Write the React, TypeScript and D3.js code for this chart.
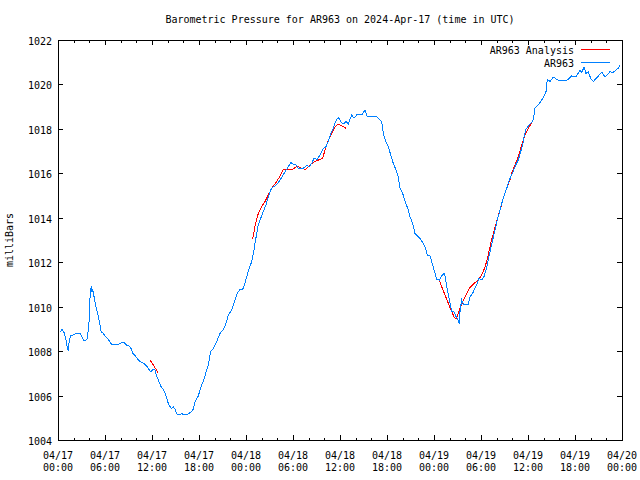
import React from "react";
import * as d3 from "d3";

const TITLE = "Barometric Pressure for AR963 on 2024-Apr-17 (time in UTC)";
const Y_LABEL = "milliBars";
const START_ISO = "2024-04-17T00:00:00Z";
const END_ISO = "2024-04-20T00:00:00Z";
const Y_DOMAIN = [1004, 1022];
const Y_TICKS = [1004, 1006, 1008, 1010, 1012, 1014, 1016, 1018, 1020, 1022];

// AR963 observed: hours since 2024-04-17 00:00 UTC, and pressure (mb)
const obsHours = [
  0.26, 0.55, 0.77, 1.02, 1.19, 1.31, 1.44, 1.62, 1.95, 2.3, 2.81, 3.03, 3.23, 3.54, 3.74, 3.83, 4.0, 4.09, 4.25, 4.34,
  4.43, 4.6, 4.76, 4.94, 5.2, 5.36, 5.53, 5.78, 6.0, 6.29, 6.55, 6.8, 7.28, 7.83, 8.13, 8.43, 8.77, 9.1, 9.32, 9.54,
  9.83, 10.12, 10.47, 10.98, 11.32, 11.66, 11.87, 12.17, 12.38, 12.6, 12.8, 13.11, 13.44, 13.66, 13.88, 14.08, 14.3,
  14.51, 14.72, 14.94, 15.23, 15.57, 15.79, 16.0, 16.43, 16.76, 17.07, 17.27, 17.49, 17.71, 17.91, 18.13, 18.34,
  18.55, 18.77, 18.98, 19.19, 19.49, 19.83, 20.26, 20.68, 21.1, 21.54, 21.74, 22.17, 22.6, 22.89, 23.23, 23.58,
  23.87, 24.09, 24.42, 24.73, 25.02, 25.15, 25.37, 25.57, 25.88, 26.21, 26.55, 26.85, 27.15, 27.41, 27.7, 28.12,
  28.56, 28.98, 29.4, 29.71, 30.04, 30.47, 30.68, 31.31, 31.75, 32.08, 32.39, 32.68, 33.1, 33.45, 33.87, 34.21,
  34.51, 34.81, 35.14, 35.49, 35.78, 36.09, 36.42, 36.77, 37.06, 37.49, 37.79, 38.13, 38.77, 39.19, 39.48, 40.68,
  41.02, 41.32, 41.53, 41.83, 42.17, 42.47, 42.8, 43.15, 43.44, 43.66, 44.0, 44.3, 44.72, 44.94, 45.28, 45.57,
  46.0, 46.3, 46.56, 46.85, 47.14, 47.49, 47.71, 47.91, 48.13, 48.34, 48.68, 48.98, 49.28, 49.44, 49.62, 49.83,
  50.04, 50.26, 50.55, 50.81, 50.97, 51.23, 51.32, 51.53, 51.74, 52.38, 52.6, 52.94, 53.23, 53.53, 53.74, 54.09,
  54.38, 54.64, 54.93, 55.15, 55.49, 55.79, 56.08, 56.43, 56.77, 57.06, 57.36, 57.61, 57.92, 58.34, 58.76, 59.07,
  59.32, 59.49, 59.74, 60.17, 60.6, 60.77, 60.89, 61.32, 61.75, 62.04, 62.3, 62.46, 62.81, 63.23, 63.66, 64.17,
  64.72, 65.14, 65.58, 66.13, 66.64, 66.85, 67.15, 67.4, 67.7, 68.0, 68.34, 68.68, 68.98, 69.41, 69.83, 70.12,
  70.47, 70.81, 71.23, 71.53, 71.74,
];
const obsValues = [
  1008.87, 1008.98, 1008.83, 1008.5, 1008.17, 1008.0, 1008.5, 1008.7, 1008.73, 1008.8, 1008.8, 1008.65, 1008.5,
  1008.5, 1008.57, 1008.87, 1009.47, 1010.45, 1010.93, 1010.67, 1010.78, 1010.45, 1010.15, 1009.85, 1009.47,
  1009.18, 1008.85, 1008.8, 1008.68, 1008.57, 1008.47, 1008.32, 1008.32, 1008.32, 1008.38, 1008.38, 1008.27,
  1008.23, 1008.12, 1007.9, 1007.8, 1007.67, 1007.52, 1007.45, 1007.33, 1007.15, 1007.07, 1007.18, 1007.15,
  1006.88, 1006.7, 1006.43, 1006.28, 1006.13, 1005.87, 1005.65, 1005.5, 1005.42, 1005.5, 1005.38, 1005.13,
  1005.13, 1005.2, 1005.13, 1005.13, 1005.2, 1005.3, 1005.38, 1005.73, 1005.87, 1005.98, 1006.25, 1006.48,
  1006.62, 1006.88, 1007.15, 1007.38, 1007.98, 1008.12, 1008.43, 1008.8, 1008.95, 1009.33, 1009.63, 1009.85,
  1010.3, 1010.6, 1010.78, 1010.78, 1011.05, 1011.35, 1011.73, 1012.03, 1012.55, 1012.85, 1013.3, 1013.68,
  1013.98, 1014.28, 1014.58, 1014.95, 1015.25, 1015.37, 1015.43, 1015.58, 1015.82, 1016.07, 1016.3, 1016.48,
  1016.42, 1016.37, 1016.22, 1016.22, 1016.37, 1016.3, 1016.45, 1016.68, 1016.63, 1016.83, 1017.12, 1017.2,
  1017.43, 1017.8, 1018.03, 1018.37, 1018.52, 1018.33, 1018.22, 1018.33, 1018.22, 1018.63, 1018.48, 1018.63,
  1018.63, 1018.85, 1018.55, 1018.55, 1018.43, 1018.33, 1017.8, 1017.43, 1017.2, 1016.83, 1016.45, 1016.15,
  1015.85, 1015.33, 1015.1, 1014.75, 1014.35, 1014.05, 1013.75, 1013.3, 1013.15, 1013.03, 1012.88, 1012.7,
  1012.33, 1012.28, 1012.03, 1011.77, 1011.5, 1011.23, 1011.2, 1011.38, 1011.5, 1011.35, 1010.9, 1010.53,
  1010.15, 1009.78, 1009.78, 1009.55, 1009.48, 1009.22, 1009.78, 1010.3, 1010.12, 1010.12, 1010.45, 1010.6,
  1010.83, 1011.05, 1011.27, 1011.2, 1011.35, 1011.65, 1012.1, 1012.48, 1013.0, 1013.45, 1013.9, 1014.35,
  1014.8, 1015.1, 1015.4, 1015.7, 1015.93, 1016.3, 1016.6, 1016.98, 1017.28, 1017.65, 1017.98, 1018.18,
  1018.35, 1018.63, 1018.93, 1019.08, 1019.3, 1019.48, 1019.68, 1020.23, 1020.13, 1020.33, 1020.23, 1020.16,
  1020.16, 1020.23, 1020.38, 1020.33, 1020.65, 1020.53, 1020.77, 1020.5, 1020.58, 1020.27, 1020.13, 1020.27,
  1020.38, 1020.55, 1020.35, 1020.43, 1020.58, 1020.53, 1020.65, 1020.73, 1020.88,
];

// AR963 Analysis segments
const anaSeg1Hours = [11.74, 12.17, 12.51, 12.8];
const anaSeg1Values = [1007.6, 1007.38, 1007.18, 1007.0];
const anaSeg2Hours = [
  24.85, 25.15, 25.57, 26.0, 26.42, 26.85, 27.36, 27.92, 28.34, 28.76, 29.4, 29.96, 30.55, 31.11, 31.66, 32.17,
  32.81, 33.79, 34.21, 34.51, 34.94, 35.36, 35.78, 36.22, 36.77,
];
const anaSeg2Values = [
  1013.03, 1013.63, 1014.2, 1014.5, 1014.73, 1015.03, 1015.37, 1015.63, 1015.88, 1016.18, 1016.18, 1016.18,
  1016.33, 1016.22, 1016.18, 1016.38, 1016.53, 1016.68, 1017.2, 1017.5, 1017.8, 1018.07, 1018.22, 1018.13, 1018.03,
];
const anaSeg3Hours = [
  48.68, 48.98, 49.4, 49.83, 50.26, 50.55, 50.81, 51.1, 51.41, 51.74, 52.17, 52.6, 53.11, 53.66, 54.09, 54.51,
  54.93, 55.24, 55.58, 56.0, 56.43, 56.85, 57.28, 57.7, 57.92, 58.34, 58.76, 59.19, 59.62, 60.04, 60.6,
];
const anaSeg3Values = [
  1011.2, 1010.9, 1010.53, 1010.15, 1009.78, 1009.55, 1009.43, 1009.7, 1010.0, 1010.27, 1010.6, 1010.87, 1011.05,
  1011.2, 1011.43, 1011.77, 1012.33, 1012.85, 1013.3, 1013.83, 1014.35, 1014.88, 1015.33, 1015.7, 1016.0, 1016.38,
  1016.75, 1017.28, 1017.73, 1018.03, 1018.35,
];

const SERIES_NAMES = ["AR963 Analysis", "AR963"];
const SERIES_COLORS = ["#ff0000", "#0080ff"];

const W = 640;
const H = 480;
const M = { left: 58, right: 622, top: 40, bottom: 440 };
const FONT = "'DejaVu Sans Mono', 'Liberation Mono', monospace";

type Pt = { t: Date; v: number };

export default function App() {
  const start = new Date(START_ISO);
  const end = new Date(END_ISO);
  const x = d3.scaleUtc().domain([start, end]).range([M.left, M.right]);
  const y = d3.scaleLinear().domain(Y_DOMAIN).range([M.bottom, M.top]);

  const toPts = (hs: number[], vs: number[]): Pt[] =>
    hs.map((h, i) => ({ t: new Date(start.getTime() + h * 3600e3), v: vs[i] }));

  const line = d3
    .line<Pt>()
    .x((d) => x(d.t))
    .y((d) => y(d.v));

  const obs = toPts(obsHours, obsValues);
  const anaSegs = [
    toPts(anaSeg1Hours, anaSeg1Values),
    toPts(anaSeg2Hours, anaSeg2Values),
    toPts(anaSeg3Hours, anaSeg3Values),
  ];

  const majorX = x.ticks(d3.utcHour.every(6)!);
  const minorX = x.ticks(d3.utcHour.every(2)!).filter((d) => d.getUTCHours() % 6 !== 0);
  const fmtDate = d3.utcFormat("%m/%d");
  const fmtTime = d3.utcFormat("%H:%M");

  const majLen = 5;
  const minLen = 2.5;

  return (
    <svg
      width={W}
      height={H}
      viewBox={`0 0 ${W} ${H}`}
      style={{ position: "absolute", left: 0, top: 0, background: "#fff" }}
      fontFamily={FONT}
      fontSize={10}
    >
      <rect x={0} y={0} width={W} height={H} fill="#fff" />
      {/* ticks */}
      <g stroke="#000" strokeWidth={1} shapeRendering="crispEdges">
        {majorX.map((d, i) => {
          const px = Math.round(x(d)) + 0.5;
          return (
            <g key={"mx" + i}>
              <line x1={px} x2={px} y1={M.bottom} y2={M.bottom - majLen} />
              <line x1={px} x2={px} y1={M.top} y2={M.top + majLen} />
            </g>
          );
        })}
        {minorX.map((d, i) => {
          const px = Math.round(x(d)) + 0.5;
          return (
            <g key={"nx" + i}>
              <line x1={px} x2={px} y1={M.bottom} y2={M.bottom - minLen} />
              <line x1={px} x2={px} y1={M.top} y2={M.top + minLen} />
            </g>
          );
        })}
        {Y_TICKS.map((v, i) => {
          const py = Math.round(y(v)) + 0.5;
          return (
            <g key={"y" + i}>
              <line x1={M.left} x2={M.left + majLen} y1={py} y2={py} />
              <line x1={M.right} x2={M.right - majLen} y1={py} y2={py} />
            </g>
          );
        })}
      </g>
      {/* tick labels */}
      <g fill="#000">
        {Y_TICKS.map((v, i) => (
          <text key={"yl" + i} x={M.left - 6} y={y(v) + 5} textAnchor="end">
            {v}
          </text>
        ))}
        {majorX.map((d, i) => (
          <g key={"xl" + i}>
            <text x={x(d)} y={458.5} textAnchor="middle">
              {fmtDate(d)}
            </text>
            <text x={x(d)} y={470.5} textAnchor="middle">
              {fmtTime(d)}
            </text>
          </g>
        ))}
        <text x={(M.left + M.right) / 2} y={23} textAnchor="middle">
          {TITLE}
        </text>
        <text transform={`translate(13,240) rotate(-90)`} textAnchor="middle">
          {Y_LABEL}
        </text>
      </g>
      {/* data */}
      <g fill="none" strokeWidth={1} shapeRendering="crispEdges">
        {anaSegs.map((seg, i) => (
          <path key={"a" + i} d={line(seg) || ""} stroke={SERIES_COLORS[0]} />
        ))}
        <path d={line(obs) || ""} stroke={SERIES_COLORS[1]} />
      </g>
      {/* legend */}
      <g>
        {SERIES_NAMES.map((name, i) => {
          const cy = 49.5 + i * 13;
          return (
            <g key={"lg" + i}>
              <text x={574} y={cy + 4} textAnchor="end" fill="#000">
                {name}
              </text>
              <line
                x1={581}
                x2={610}
                y1={cy - 0.5}
                y2={cy - 0.5}
                stroke={SERIES_COLORS[i]}
                shapeRendering="crispEdges"
              />
            </g>
          );
        })}
      </g>
      {/* border */}
      <rect
        x={M.left + 0.5}
        y={M.top + 0.5}
        width={M.right - M.left}
        height={M.bottom - M.top}
        fill="none"
        stroke="#000"
        shapeRendering="crispEdges"
      />
    </svg>
  );
}
